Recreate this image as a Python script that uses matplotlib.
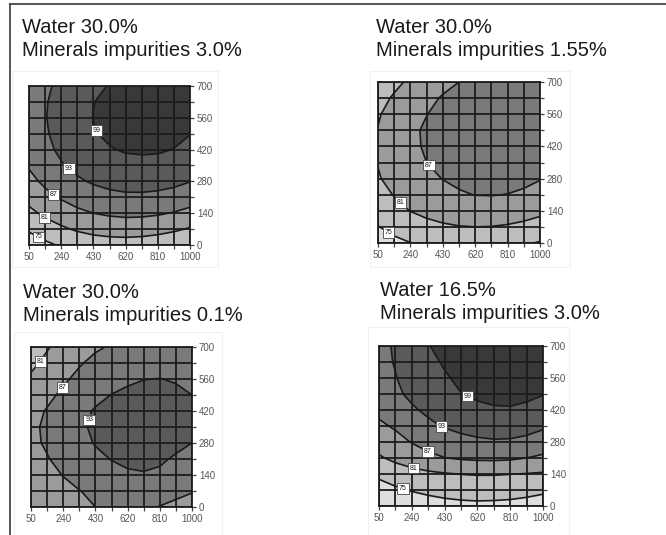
import matplotlib.pyplot as plt
import numpy as np
from matplotlib.lines import Line2D
from matplotlib.patches import Rectangle

plt.rcParams['font.family'] = ['Liberation Sans', 'DejaVu Sans']

W, H = 666, 535

# grid nodes of the response surface
x_nodes = [50, 145, 240, 335, 430, 525, 620, 715, 810, 905, 1000]
y_nodes = [0, 70, 140, 210, 280, 350, 420, 490, 560, 630, 700]

x_ticks = [50, 240, 430, 620, 810, 1000]
y_ticks = [0, 140, 280, 420, 560, 700]
levels = [75, 81, 87, 93, 99]

# rows go with y_nodes (bottom to top), columns with x_nodes
z_w30_m30 = [
    [71.5, 73.8, 75.6, 76.9, 77.9, 78.4, 78.5, 78.2, 77.5, 76.4, 75.4],
    [75.8, 78.2, 80.1, 81.7, 82.8, 83.4, 83.7, 83.5, 82.9, 81.9, 80.5],
    [79.6, 82.1, 84.1, 85.8, 87.0, 87.8, 88.2, 88.1, 87.6, 86.7, 85.4],
    [82.8, 85.4, 87.5, 89.3, 90.6, 91.5, 92.0, 92.0, 91.6, 90.9, 89.7],
    [85.4, 88.1, 90.3, 92.2, 93.6, 94.6, 95.1, 95.2, 95.0, 94.3, 93.1],
    [87.5, 90.2, 92.5, 94.4, 95.9, 97.0, 97.6, 97.8, 97.6, 96.9, 95.9],
    [89.0, 91.4, 94.2, 96.1, 97.6, 98.7, 99.4, 99.6, 99.5, 98.9, 97.9],
    [90.0, 92.3, 95.2, 97.1, 98.7, 99.8, 100.5, 100.8, 100.7, 100.1, 99.1],
    [90.4, 92.7, 95.6, 97.6, 99.1, 100.3, 101.0, 101.3, 101.2, 100.6, 99.6],
    [90.2, 92.5, 95.4, 97.4, 98.9, 100.1, 100.8, 101.1, 100.9, 100.5, 99.7],
    [89.5, 91.8, 94.6, 96.6, 98.1, 99.2, 99.9, 100.2, 100.1, 100.0, 99.5],
]

z_w30_m155 = [
    [72.0, 73.6, 74.9, 75.9, 76.6, 77.0, 77.1, 76.9, 76.4, 75.6, 74.6],
    [74.8, 76.8, 78.4, 79.5, 80.3, 80.8, 81.0, 80.9, 80.5, 79.8, 78.8],
    [77.6, 79.6, 81.1, 82.3, 83.2, 83.8, 84.1, 84.1, 83.8, 83.2, 82.2],
    [79.4, 81.2, 83.0, 84.5, 85.6, 86.5, 87.1, 87.2, 86.9, 86.3, 85.3],
    [80.6, 82.6, 84.4, 85.9, 87.1, 88.0, 88.6, 88.8, 88.6, 88.1, 87.2],
    [81.2, 83.3, 85.3, 87.0, 88.3, 89.3, 89.9, 90.1, 90.0, 89.5, 88.5],
    [81.4, 83.8, 85.9, 87.6, 89.0, 90.1, 90.8, 91.1, 91.0, 90.4, 89.3],
    [81.2, 83.9, 86.0, 87.7, 89.1, 90.2, 90.9, 91.3, 91.2, 90.7, 89.7],
    [80.5, 83.1, 85.2, 86.9, 88.4, 89.6, 90.5, 90.9, 90.9, 90.5, 89.8],
    [79.0, 81.7, 83.9, 85.8, 87.4, 88.7, 89.6, 90.1, 90.2, 90.0, 89.6],
    [76.8, 79.6, 82.0, 84.0, 85.7, 87.0, 88.0, 88.6, 89.0, 89.1, 89.1],
]

z_w30_m01 = [
    [82.8, 84.0, 85.1, 86.1, 87.0, 87.6, 87.8, 87.6, 86.9, 86.2, 85.6],
    [84.0, 85.1, 86.1, 86.9, 87.8, 88.5, 88.9, 88.9, 88.5, 87.9, 87.2],
    [85.0, 86.0, 87.1, 88.4, 89.8, 91.1, 92.2, 92.6, 92.3, 91.3, 89.6],
    [85.8, 86.8, 88.0, 89.6, 91.5, 93.2, 94.2, 94.4, 93.6, 92.5, 91.5],
    [86.3, 87.4, 88.8, 90.9, 93.4, 94.8, 95.4, 95.4, 94.8, 94.0, 93.0],
    [86.3, 87.6, 89.6, 92.0, 94.0, 95.3, 95.9, 96.0, 95.6, 94.9, 94.0],
    [85.6, 87.3, 89.3, 91.5, 93.5, 94.9, 95.7, 95.9, 95.6, 95.0, 94.2],
    [84.2, 86.0, 87.8, 89.7, 91.6, 93.1, 94.1, 94.6, 94.6, 94.0, 93.0],
    [82.0, 84.2, 86.3, 88.1, 89.8, 91.1, 92.1, 92.9, 93.1, 92.6, 91.6],
    [79.6, 82.4, 84.7, 86.6, 88.1, 89.2, 90.0, 90.6, 90.8, 90.7, 90.4],
    [77.2, 80.5, 83.0, 84.9, 86.4, 87.4, 88.2, 88.8, 89.2, 89.4, 89.4],
]

z_w165_m30 = [
    [70.0, 71.0, 71.9, 72.6, 73.2, 73.6, 73.8, 73.7, 73.5, 73.1, 72.5],
    [73.0, 74.2, 75.3, 76.2, 76.9, 77.4, 77.6, 77.5, 77.2, 76.6, 75.9],
    [76.0, 77.6, 78.9, 79.9, 80.6, 81.1, 81.3, 81.3, 81.1, 80.8, 80.4],
    [80.3, 82.4, 84.3, 85.8, 86.9, 87.6, 88.0, 88.1, 87.8, 87.0, 86.0],
    [83.5, 85.4, 87.2, 88.8, 90.1, 91.2, 92.0, 92.4, 92.3, 91.6, 90.3],
    [86.1, 87.6, 90.1, 91.9, 93.4, 94.6, 95.4, 95.8, 95.7, 95.0, 93.8],
    [88.2, 90.3, 92.3, 94.0, 95.5, 96.8, 97.8, 98.4, 98.5, 97.9, 96.7],
    [89.8, 92.0, 94.1, 95.9, 97.5, 98.9, 99.9, 100.5, 100.6, 100.1, 99.2],
    [90.9, 92.8, 95.0, 96.9, 98.5, 99.9, 100.9, 101.5, 101.7, 101.5, 100.9],
    [91.5, 93.3, 95.7, 97.8, 99.5, 100.8, 101.7, 102.2, 102.4, 102.3, 101.9],
    [91.7, 93.5, 96.4, 98.8, 100.4, 101.5, 102.2, 102.5, 102.6, 102.5, 102.3],
]

titles = [
    ("Water 30.0%", "Minerals impurities 3.0%"),
    ("Water 30.0%", "Minerals impurities 1.55%"),
    ("Water 30.0%", "Minerals impurities 0.1%"),
    ("Water 16.5%", "Minerals impurities 3.0%"),
]

band_colors = ['#dedede', '#bdbdbd', '#9b9b9b', '#7a7a7a', '#5a5a5a', '#393939']

# where the level labels sit on each panel (data coords)
label_spots = [
    [(494, 516), (298, 348), (199, 228), (144, 122), (95, 22)],
    [(330, 325), (179, 173), (116, 53)],
    [(124, 627), (229, 525), (389, 382)],
    [(553, 466), (407, 336), (330, 233), (250, 161), (189, 77)],
]

# axes boxes in pixels: left, top, right, bottom
boxes = [(29, 86, 190, 245), (378, 82, 540, 243),
         (31, 347, 192, 507), (379, 346, 543, 506)]
title_pos = [(22, 33), (376, 33), (23, 298), (380, 296)]
frames = [(12, 71, 218, 267), (370, 71, 570, 267),
          (14, 332, 222, 535), (368, 327, 569, 535)]

fig = plt.figure(figsize=(W / 100, H / 100), dpi=100)

# outer border (top and left only)
fig.add_artist(Line2D([9.5 / W, 9.5 / W], [0, 1 - 4 / H], color='#3a3a3a', lw=1.2))
fig.add_artist(Line2D([9.5 / W, 1], [1 - 4 / H, 1 - 4 / H], color='#3a3a3a', lw=1.2))

X, Y = np.meshgrid(x_nodes, y_nodes)
surfaces = [z_w30_m30, z_w30_m155, z_w30_m01, z_w165_m30]

for i, z in enumerate(surfaces):
    l, t, r, b = boxes[i]
    fl, ft, fr, fb = frames[i]
    fig.add_artist(Rectangle((fl / W, 1 - fb / H), (fr - fl) / W, (fb - ft) / H,
                             transform=fig.transFigure, fill=False,
                             ec='#f0f0f0', lw=0.8))

    ax = fig.add_axes([l / W, 1 - b / H, (r - l) / W, (b - t) / H])
    Z = np.array(z)
    ax.contourf(X, Y, Z, levels=[0] + levels + [200], colors=band_colors)
    cs = ax.contour(X, Y, Z, levels=levels, colors='#1a1a1a', linewidths=1.2)
    txts = ax.clabel(cs, fmt='%d', fontsize=5, inline=True, inline_spacing=2,
                     manual=label_spots[i])
    for tx in txts:
        tx.set_rotation(0)
        tx.set_bbox(dict(boxstyle='square,pad=0.25', fc='white', ec='#444444', lw=0.6))

    ax.set_xlim(50, 1000)
    ax.set_ylim(0, 700)
    ax.set_xticks(x_ticks)
    ax.set_xticks(x_nodes, minor=True)
    ax.set_yticks(y_ticks)
    ax.set_yticks(y_nodes, minor=True)
    ax.yaxis.tick_right()
    ax.tick_params(which='both', direction='out', length=3, width=0.9,
                   color='#444444', labelcolor='#555555', labelsize=7, pad=2)
    ax.grid(which='both', color='#1c1c1c', lw=1.3)
    for s in ax.spines.values():
        s.set_color('#1c1c1c')
        s.set_linewidth(1.3)

    tx, ty = title_pos[i]
    fig.text(tx / W, 1 - ty / H, titles[i][0], fontsize=14.5, va='baseline', color='#1a1a1a')
    fig.text(tx / W, 1 - (ty + 23) / H, titles[i][1], fontsize=14.5, va='baseline', color='#1a1a1a')

fig.savefig('out.png', dpi=100)
